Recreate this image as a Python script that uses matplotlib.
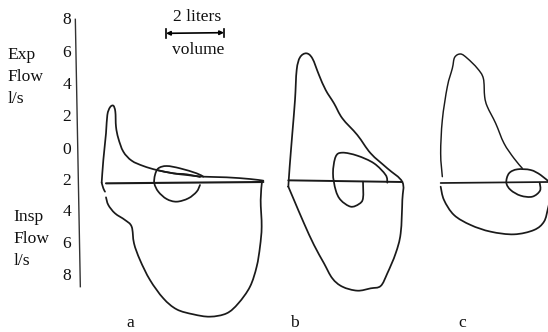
import matplotlib
matplotlib.use("Agg")
import matplotlib.pyplot as plt
from matplotlib.path import Path
from matplotlib.patches import PathPatch
import numpy as np

plt.rcParams['font.family'] = ['Liberation Serif', 'DejaVu Serif']

a_exp_x = [305,310,318,322,330,340,346,348,355,370,395,430,470,520,560,610,680,750,790]
a_exp_y = [548,480,400,345,322,317,335,380,415,455,482,498,510,520,525,530,532,537,542]
a_insp_x = [786,782,785,780,770,750,715,680,630,580,530,490,450,420,402,395,375,345,325,318]
a_insp_y = [545,600,680,740,800,860,910,940,950,943,928,895,840,780,730,680,660,640,615,592]
a_tail_x = [305,310,315]
a_tail_y = [548,565,575]
a_base_x = [318,790]
a_base_y = [550,546]
a_tidal_x = [610,590,540,500,475,465,463,475,500,530,565,590,600]
a_tidal_y = [530,520,505,498,505,525,550,575,597,605,595,575,555]
a_tidal2_x = [470,520,560,600]
a_tidal2_y = [510,520,523,531]

b_loop_x = [43,47,55,63,68,78,97,115,135,155,180,205,250,290,340,385,385,380,365,340,320,290,250,205,175,150,120,90,60,43]
b_loop_y = [560,500,400,300,210,172,160,175,225,270,310,355,405,460,505,546,600,700,760,820,858,865,872,860,835,790,735,670,600,560]
b_base_x = [43,385]
b_base_y = [541,546]
b_tidal_x = [340,335,300,250,205,185,177,185,200,230,255,267,267]
b_tidal_y = [548,525,490,467,458,470,520,570,600,620,612,595,545]

c_exp_x = [505,500,505,520,535,542,560,580,610,628,632,640,665,690,720,745]
c_exp_y = [530,460,360,260,205,172,162,175,205,235,290,320,370,430,475,505]
c_insp_x = [500,510,540,590,650,720,780,810,822,830]
c_insp_y = [560,600,645,675,695,703,690,665,625,590]
c_base_x = [500,822]
c_base_y = [549,546]
c_tidal_x = [830,800,770,730,705,697,710,740,775,798,797]
c_tidal_y = [550,525,510,508,520,548,570,587,590,572,548]

flow_labels = ['8','6','4','2','0','2','4','6','8']
flow_label_y = [60,158,255,352,450,543,637,733,828]
exp_lines = ['Exp','Flow','l/s']
exp_y = [165,232,298]
insp_lines = ['Insp','Flow','l/s']
insp_y = [650,717,783]
panel_names = ['a','b','c']
panel_x = [390,884,1387]

PANEL_SHIFT = 822
INK = '#1a1a1a'
FS = 12.6

fig = plt.figure(figsize=(5.48,3.32), dpi=100)
ax = fig.add_axes([0,0,1,1])
ax.set_xlim(0,1644)
ax.set_ylim(996,0)
ax.axis('off')

def trace(x, y, shift=0, lw=1.25):
    p = np.column_stack([np.array(x, float)+shift, np.array(y, float)])
    if len(p) < 3:
        ax.plot(p[:,0], p[:,1], color=INK, lw=lw, solid_capstyle='round')
        return
    q = np.vstack([p[0], p, p[-1]])
    verts, codes = [p[0]], [Path.MOVETO]
    for i in range(1, len(q)-2):
        verts += [q[i]+(q[i+1]-q[i-1])/6, q[i+1]-(q[i+2]-q[i])/6, q[i+1]]
        codes += [Path.CURVE4]*3
    ax.add_patch(PathPatch(Path(verts, codes), fill=False, edgecolor=INK, lw=lw,
                           capstyle='round', joinstyle='round'))

# Flow axis rule
ax.plot([226,241],[58,860], color='#333333', lw=1.0)

for xs, ys in [(a_exp_x,a_exp_y),(a_insp_x,a_insp_y),(a_tail_x,a_tail_y),
               (a_tidal_x,a_tidal_y),(a_tidal2_x,a_tidal2_y)]:
    trace(xs, ys)
trace(a_base_x, a_base_y, lw=1.5)

trace(b_loop_x, b_loop_y, PANEL_SHIFT)
trace(b_tidal_x, b_tidal_y, PANEL_SHIFT)
trace(b_base_x, b_base_y, PANEL_SHIFT, lw=1.4)

trace(c_exp_x, c_exp_y, PANEL_SHIFT, lw=1.05)
trace(c_insp_x, c_insp_y, PANEL_SHIFT)
trace(c_tidal_x, c_tidal_y, PANEL_SHIFT)
trace(c_base_x, c_base_y, PANEL_SHIFT, lw=1.25)

# Scale bar
ax.annotate('', xy=(672,98), xytext=(498,100),
            arrowprops=dict(arrowstyle='<|-|>', color='black', lw=1.2,
                            mutation_scale=6, shrinkA=0, shrinkB=0))
ax.plot([498,498],[88,114], color='black', lw=1.2)
ax.plot([672,672],[86,110], color='black', lw=1.2)

txt = dict(color='#111111', fontsize=FS, va='center')
ax.text(592,50,'2 liters',ha='center',**txt)
ax.text(595,150,'volume',ha='center',**txt)
for lab, y in zip(flow_labels, flow_label_y):
    ax.text(200,y,lab,ha='center',**txt)
for lab, y in zip(exp_lines, exp_y):
    ax.text(22,y,lab,ha='left',**txt)
for lab, y in zip(insp_lines, insp_y):
    ax.text(40,y,lab,ha='left',**txt)
for lab, x in zip(panel_names, panel_x):
    ax.text(x,968,lab,ha='center',**txt)

fig.savefig('out.png', dpi=100, facecolor='white')
